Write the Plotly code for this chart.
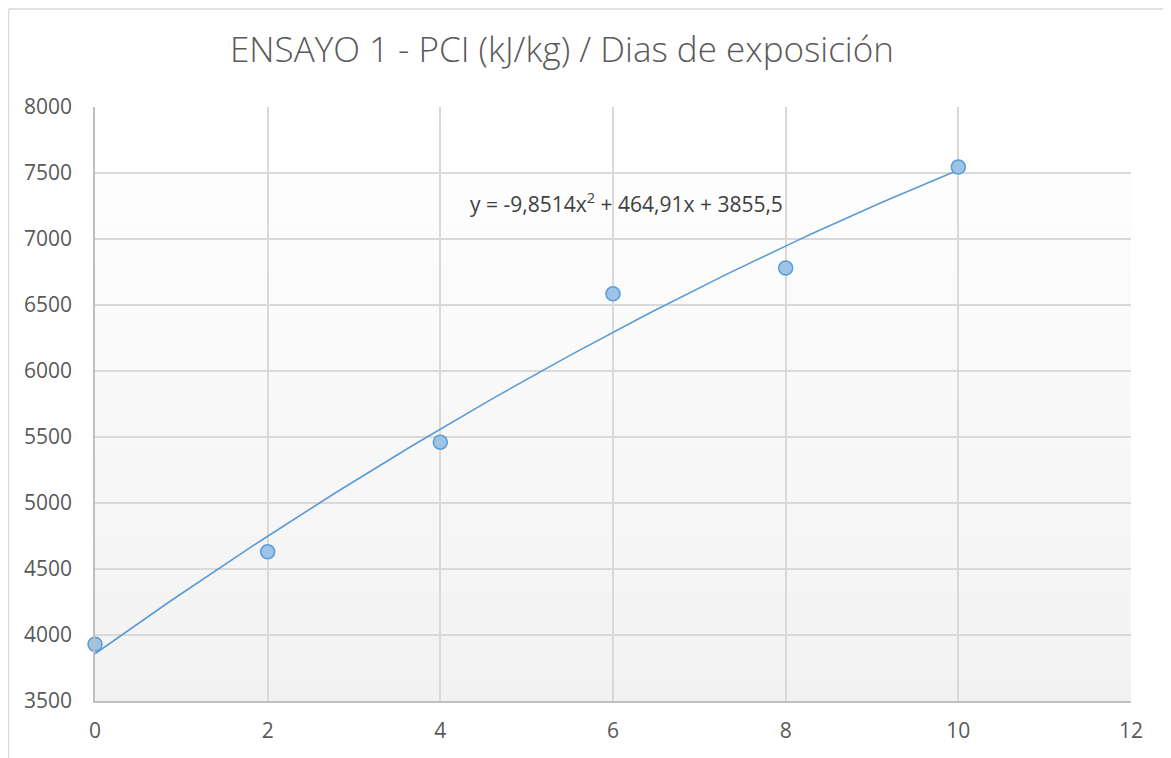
import numpy as np
import plotly.graph_objects as go

dias = [0, 2, 4, 6, 8, 10]
pci = [3930, 4630, 5460, 6585, 6780, 7545]
x_ticks = [0, 2, 4, 6, 8, 10, 12]
y_ticks = [3500, 4000, 4500, 5000, 5500, 6000, 6500, 7000, 7500, 8000]
title_text = "ENSAYO 1 - PCI (kJ/kg) / Dias de exposición"
eq_text = "y = -9,8514x<sup>2</sup> + 464,91x + 3855,5"

coef = np.polyfit(dias, pci, 2)
xs = np.linspace(min(dias), max(dias), 100)
ys = np.polyval(coef, xs)

W, H = 1171, 758
ML, MR, MT, MB = 87, 48, 99, 65
PW, PH = W - ML - MR, H - MT - MB

fig = go.Figure()
fig.add_trace(go.Scatter(x=xs, y=ys, mode="lines",
                         line=dict(color="#5B9BD5", width=1.6),
                         hoverinfo="skip", showlegend=False))
fig.add_trace(go.Scatter(x=dias, y=pci, mode="markers", cliponaxis=False,
                         marker=dict(size=14, color="#9DC3E6",
                                     line=dict(color="#5B9BD5", width=1.5)),
                         showlegend=False))

# gradient background for plot area
shapes = []
n = 100
for i in range(n):
    c0 = 255 - 13 * (1 - (i + 0.5) / n)
    shapes.append(dict(type="rect", xref="x domain", yref="y domain",
                       x0=0, x1=1, y0=i / n, y1=(i + 1) / n + 0.002,
                       fillcolor=f"rgb({c0:.1f},{c0:.1f},{c0:.1f})", line=dict(width=0),
                       layer="below"))
# outer chart frame (top and left edges)
fx = (0.5 - ML) / PW
fy = (H - MB - 1) / PH
shapes.append(dict(type="line", xref="paper", yref="paper", x0=fx, x1=(W - ML) / PW,
                   y0=fy, y1=fy, line=dict(color="#D9D9D9", width=1.5)))
shapes.append(dict(type="line", xref="paper", yref="paper", x0=fx, x1=fx,
                   y0=fy, y1=-MB / PH, line=dict(color="#D9D9D9", width=1.5)))

fig.update_layout(
    width=W, height=H,
    margin=dict(l=ML, r=MR, t=MT, b=MB),
    paper_bgcolor="white", plot_bgcolor="rgba(0,0,0,0)",
    shapes=shapes,
    title=dict(text=title_text, x=(562 - 8) / W, xanchor="center",
               y=1 - 42 / H, yanchor="middle",
               font=dict(family="Open Sans", size=35, color="#595959", weight=300)),
    font=dict(family="Open Sans", color="#595959"),
    annotations=[dict(text=eq_text, x=6.16, y=7273, xref="x", yref="y",
                      showarrow=False, xanchor="center", yanchor="middle",
                      font=dict(family="Open Sans", size=21, color="#404040"))],
)
fig.update_xaxes(range=[0, 12], tickvals=x_ticks, showgrid=True, gridcolor="#D9D9D9",
                 gridwidth=1.5, zeroline=False, showline=True, linecolor="#BFBFBF",
                 linewidth=1.5, ticks="", ticklabelstandoff=10,
                 tickfont=dict(family="Open Sans", size=21, color="#595959"))
fig.update_yaxes(range=[3500, 8000], tickvals=y_ticks, showgrid=True, gridcolor="#D9D9D9",
                 gridwidth=1.5, zeroline=False, showline=True, linecolor="#BFBFBF",
                 linewidth=1.5, ticks="", ticklabelstandoff=17,
                 tickfont=dict(family="Open Sans", size=21, color="#595959"))
fig.write_html("out.html")
